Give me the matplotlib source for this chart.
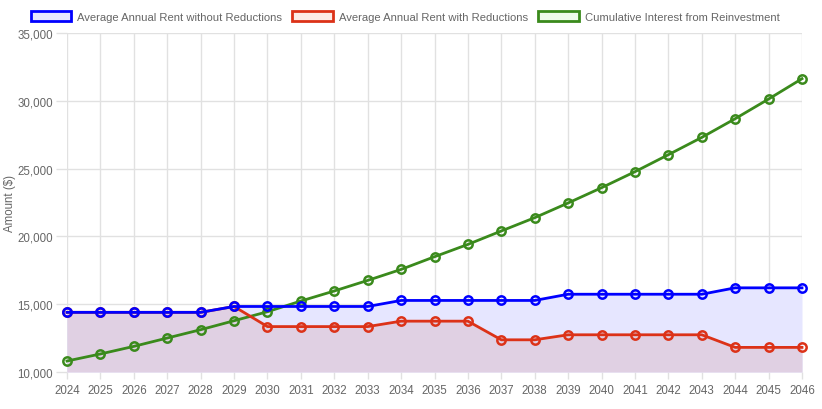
import matplotlib
matplotlib.use("Agg")
import matplotlib.pyplot as plt
from matplotlib.patches import Patch
import numpy as np

plt.rcParams['font.family'] = ['Liberation Sans', 'DejaVu Sans']

years = list(range(2024, 2047))
rent_no_reduction = [14400, 14400, 14400, 14400, 14400,
                     14832, 14832, 14832, 14832, 14832,
                     15277, 15277, 15277, 15277, 15277,
                     15735, 15735, 15735, 15735, 15735,
                     16207, 16207, 16207]
rent_with_reduction = [14400, 14400, 14400, 14400, 14400,
                       14832, 13349, 13349, 13349, 13349,
                       13749, 13749, 13749, 12374, 12374,
                       12745, 12745, 12745, 12745, 12745,
                       11815, 11815, 11815]
cum_interest = [10810, 11330, 11890, 12505, 13120, 13780, 14445, 15235,
                15975, 16755, 17565, 18500, 19410, 20400, 21380, 22465,
                23590, 24770, 26025, 27300, 28680, 30130, 31630]
labels = ["Average Annual Rent without Reductions",
          "Average Annual Rent with Reductions",
          "Cumulative Interest from Reinvestment"]

blue = "#0000ff"
red = "#dc3218"
green = "#3a8a1c"
grey = "#666666"

fig = plt.figure(figsize=(8.22, 4.10), dpi=100)
ax = fig.add_axes([67/822, 37/410, 735/822, 339/410])

ax.fill_between(years, rent_no_reduction, 10000, color="#e6e6ff", lw=0, zorder=1)
ax.fill_between(years, rent_with_reduction, 10000, color="#e0d0e3", lw=0, zorder=1)

for vals, c in [(cum_interest, green), (rent_with_reduction, red), (rent_no_reduction, blue)]:
    ax.plot(years, vals, color=c, lw=2, marker="o", ms=6, mew=1.8,
            mfc="none", mec=c, zorder=3, clip_on=False)

ax.set_xlim(2024, 2046)
ax.set_ylim(10000, 35000)
ax.set_xticks(years)
ax.set_yticks(np.arange(10000, 35001, 5000))
ax.yaxis.set_major_formatter(matplotlib.ticker.FuncFormatter(lambda v, p: f"{int(v):,}"))
ax.grid(True, color="#e1e1e1", lw=1, zorder=0)
ax.set_axisbelow(True)
for s in ax.spines.values():
    s.set_visible(False)
ax.tick_params(axis="both", colors="#e1e1e1", labelcolor=grey, labelsize=8.3, width=1)
ax.tick_params(axis="y", length=8, pad=2)
ax.tick_params(axis="x", length=5, pad=4)
ax.set_ylabel("Amount ($)", color=grey, fontsize=8.3)
ax.yaxis.set_label_coords(-51/735, 0.5)

handles = [Patch(facecolor="#e6e6ff", edgecolor=blue, lw=2),
           Patch(facecolor="#fdebe6", edgecolor=red, lw=2),
           Patch(facecolor="#eefbea", edgecolor=green, lw=2)]
leg = fig.legend(handles, labels, loc="upper center", bbox_to_anchor=(0.493, 0.995),
                 ncol=3, frameon=False, fontsize=8.1, handlelength=3.6,
                 handleheight=1.0, columnspacing=0.9, handletextpad=0.55)
for t in leg.get_texts():
    t.set_color(grey)

fig.savefig("out.png", dpi=100)
